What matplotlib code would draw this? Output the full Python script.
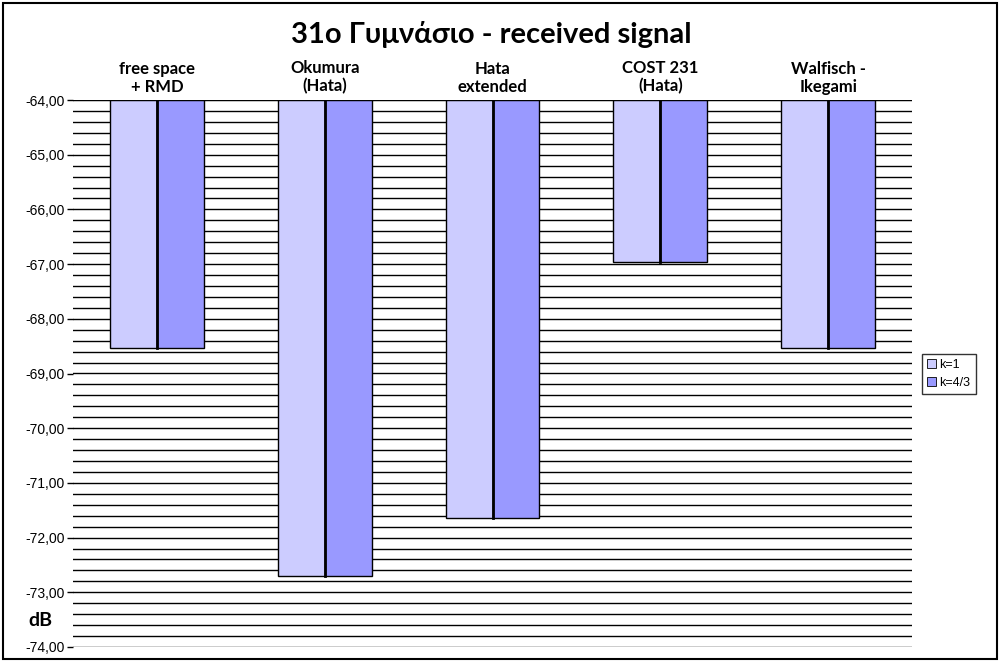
import numpy as np
import matplotlib.pyplot as plt
from matplotlib.patches import Rectangle

plt.rcParams['font.family'] = ['Liberation Sans', 'DejaVu Sans']

categories = ["free space\n+ RMD", "Okumura\n(Hata)", "Hata\nextended", "COST 231\n(Hata)", "Walfisch -\nIkegami"]
k1 = [-68.53, -72.70, -71.64, -66.96, -68.53]
k43 = [-68.53, -72.70, -71.64, -66.96, -68.53]
series_names = ["k=1", "k=4/3"]
colors = ["#CCCCFF", "#9999FF"]

base = -64.0
x = np.arange(len(categories))
w = 0.28

fig = plt.figure(figsize=(10.02, 6.63), dpi=100)
ax = fig.add_axes([73 / 1002, 16 / 663, 839 / 1002, 547 / 663])

ax.set_ylim(-74, -64)
ax.set_xlim(-0.5, len(categories) - 0.5)

# gridlines every 0.2
for yv in np.arange(-74, -63.99, 0.2):
    ax.axhline(yv, color="black", lw=1.0, zorder=1)

for vals, name, col, off in [(k1, series_names[0], colors[0], -w / 2), (k43, series_names[1], colors[1], w / 2)]:
    v = np.array(vals)
    ax.bar(x + off, v - base, bottom=base, width=w, color=col, edgecolor="black",
           linewidth=1.0, label=name, zorder=2)
# thicker center line between the two bars
for xi, v in zip(x, k1):
    ax.plot([xi, xi], [base, v], color="black", lw=2, zorder=3)

ax.axhline(-64, color="black", lw=1.5, zorder=4)

for s in ax.spines.values():
    s.set_visible(False)
ax.set_yticks(np.arange(-74, -63.5, 1))
ax.set_yticklabels([f"{t:.2f}".replace(".", ",") for t in np.arange(-74, -63.5, 1)], fontsize=10)
ax.tick_params(axis="y", length=4, width=1, pad=2)
ax.set_xticks([])

for xi, lab in zip(x, categories):
    ax.text(xi, -63.9, lab, ha="center", va="bottom", fontsize=12, fontweight="bold",
            family=["Lato", "DejaVu Sans"], linespacing=1.15)

fig.text(0.49, 1 - 34 / 663, "31ο Γυμνάσιο - received signal", ha="center", va="center",
         fontsize=21, fontweight="bold", family=["Lato", "DejaVu Sans"])
fig.text(40 / 1002, 1 - 620 / 663, "dB", ha="center", va="center", fontsize=14,
         fontweight="bold", family=["Lato", "DejaVu Sans"])

leg = ax.legend(loc="center left", bbox_to_anchor=(922 / 1002, 1 - 374 / 663),
                bbox_transform=fig.transFigure, fontsize=9, frameon=True, fancybox=False,
                handlelength=0.7, handleheight=0.7, handletextpad=0.3, borderpad=0.4,
                labelspacing=0.5, borderaxespad=0)
leg.get_frame().set_edgecolor("black")
leg.get_frame().set_linewidth(1.0)
for p in leg.get_patches():
    p.set_linewidth(0.6)

fig.patches.append(Rectangle((3 / 1002, 4 / 663), 994 / 1002, 656 / 663, transform=fig.transFigure,
                             fill=False, edgecolor="black", lw=1.5))

fig.savefig("out.png", dpi=100)
